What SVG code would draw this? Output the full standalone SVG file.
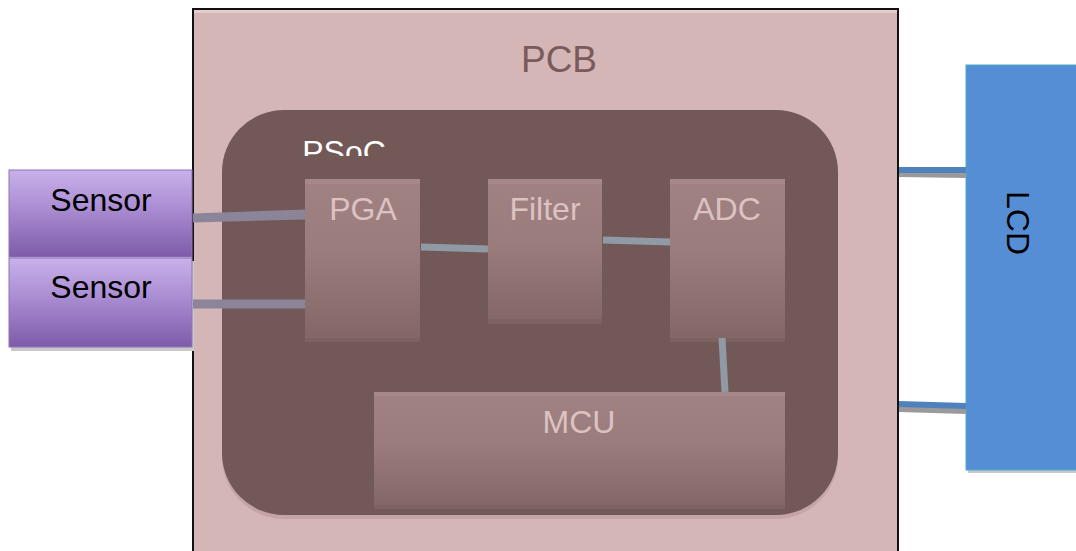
<svg xmlns="http://www.w3.org/2000/svg" width="1076" height="551" viewBox="0 0 1076 551">
<style>
.lbl{font-family:"Liberation Sans",Arial,sans-serif;text-anchor:middle}
.blk{fill:url(#gBlk)}
.blkTop{fill:#a68888}
.blkBot{fill:#7e6262}
.blkTxt{font-size:32px;fill:#dcc2c2}
.sens{fill:url(#gSens);stroke:#8f72b8;stroke-width:1}
.wire{stroke:#8f9aa4;stroke-width:7;fill:none}
.swire{stroke:#8c8498;stroke-width:7;fill:none}
.lwire{stroke:#4f81bd;stroke-width:6;fill:none}
.shadow{stroke:#9a9a9a;stroke-width:6;fill:none}
</style>
<defs>
<linearGradient id="gBlk" x1="0" y1="0" x2="0" y2="1">
<stop offset="0" stop-color="#a08282"/>
<stop offset="0.45" stop-color="#9a7c7c"/>
<stop offset="1" stop-color="#826565"/>
</linearGradient>
<linearGradient id="gSens" x1="0" y1="0" x2="0" y2="1">
<stop offset="0" stop-color="#c9b1ea"/>
<stop offset="0.4" stop-color="#ad90d6"/>
<stop offset="1" stop-color="#7e5ba8"/>
</linearGradient>
<clipPath id="psocClip"><rect x="222" y="110" width="300" height="46"/></clipPath>
</defs>

<g id="pcb">
<rect x="193" y="9" width="705" height="545" fill="#d4b6b6" stroke="#111" stroke-width="2"/>
<rect x="194" y="10" width="703" height="3" fill="#e6cccc"/>
<text class="lbl" x="559" y="72" font-size="37" fill="#7a5a5a">PCB</text>
</g>

<g id="psoc">
<rect x="222" y="114" width="616" height="405" rx="62" fill="#c4a4a4"/>
<rect x="222" y="110" width="616" height="405" rx="62" fill="#735858"/>
<text class="lbl" x="344" y="163" font-size="32" fill="#ffffff" clip-path="url(#psocClip)">PSoC</text>
</g>

<g id="pga">
<rect class="blk" x="305" y="179" width="115" height="163"/>
<rect class="blkTop" x="305" y="179" width="115" height="5"/>
<rect class="blkBot" x="305" y="338" width="115" height="4"/>
<text class="lbl blkTxt" x="363" y="220">PGA</text>
</g>

<g id="filter">
<rect class="blk" x="488" y="179" width="114" height="145"/>
<rect class="blkTop" x="488" y="179" width="114" height="5"/>
<rect class="blkBot" x="488" y="319" width="114" height="5"/>
<text class="lbl blkTxt" x="545" y="220">Filter</text>
</g>

<g id="adc">
<rect class="blk" x="670" y="179" width="115" height="163"/>
<rect class="blkTop" x="670" y="179" width="115" height="5"/>
<rect class="blkBot" x="670" y="338" width="115" height="4"/>
<text class="lbl blkTxt" x="727" y="220">ADC</text>
</g>

<g id="mcu">
<rect class="blk" x="374" y="392" width="411" height="117"/>
<rect class="blkTop" x="374" y="392" width="411" height="4"/>
<rect class="blkBot" x="374" y="505" width="411" height="4"/>
<text class="lbl blkTxt" x="579" y="433">MCU</text>
</g>

<g id="sensor1">
<rect class="sens" x="9" y="170" width="183" height="87"/>
<text class="lbl" x="101" y="211" font-size="32" fill="#000">Sensor</text>
</g>
<g id="sensor2">
<rect x="11" y="261" width="183" height="90" fill="#c8c8c8"/>
<rect class="sens" x="9" y="258" width="183" height="89"/>
<text class="lbl" x="101" y="298" font-size="32" fill="#000">Sensor</text>
</g>

<g id="lcd">
<rect x="968" y="68" width="108" height="405" fill="#c8c8c8"/>
<rect x="966" y="65" width="112" height="405" fill="#558ed5" stroke="#4bacc6" stroke-width="1"/>
<text class="lbl" transform="translate(1007,223) rotate(90)" font-size="32" fill="#000">LCD</text>
</g>

<g id="connectors">
<line class="swire" x1="193" y1="219" x2="305" y2="216" stroke="#a58e92"/>
<line class="swire" x1="193" y1="217" x2="305" y2="213"/>
<line class="swire" x1="193" y1="305" x2="305" y2="305" stroke="#a58e92"/>
<line class="swire" x1="193" y1="303" x2="305" y2="303"/>
<line class="wire" x1="421" y1="247" x2="488" y2="249"/>
<line class="wire" x1="603" y1="240" x2="670" y2="242"/>
<line class="wire" x1="722" y1="338" x2="725" y2="392"/>
<line class="shadow" x1="899" y1="174" x2="966" y2="175"/>
<line class="lwire" x1="899" y1="170" x2="966" y2="170"/>
<line class="shadow" x1="899" y1="409" x2="966" y2="411"/>
<line class="lwire" x1="899" y1="404" x2="966" y2="406"/>
</g>
</svg>
